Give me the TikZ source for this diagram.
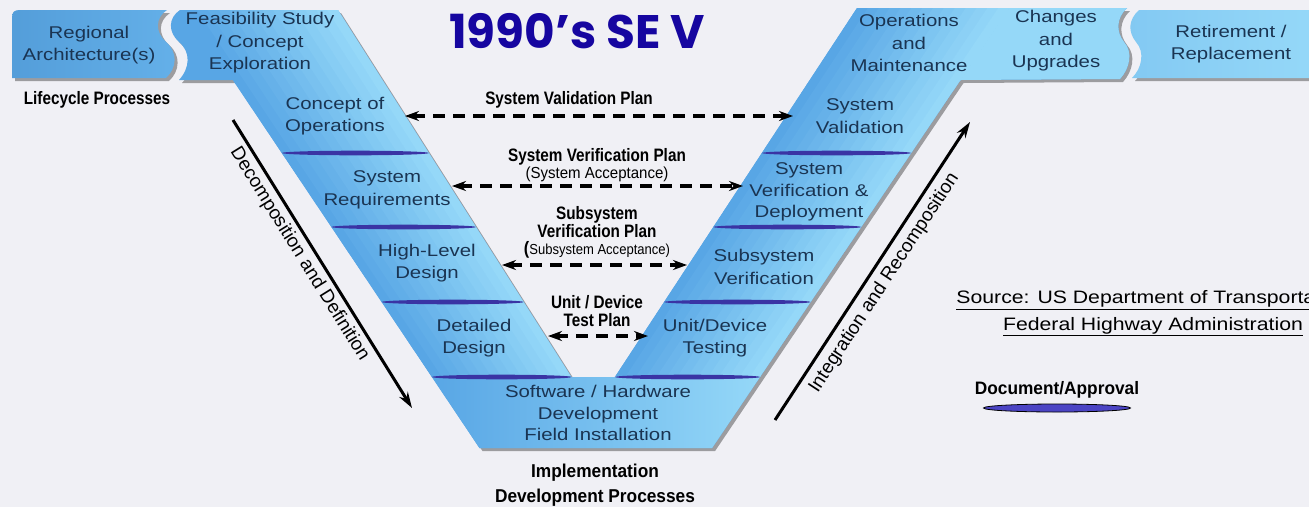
\documentclass[tikz,border=0pt]{standalone}
\usepackage{fontspec}
\setmainfont{Liberation Sans}
\newfontfamily\titlefont{Poppins}
\usetikzlibrary{arrows.meta,shapes.geometric}
\definecolor{bg}{HTML}{F0F0F5}
\definecolor{armdark}{HTML}{58A6E5}
\definecolor{armlight}{HTML}{95D8F8}
\definecolor{txt}{HTML}{1A3452}
\definecolor{divc}{HTML}{3A34A4}
\definecolor{titleblue}{HTML}{1606A0}
\definecolor{docfill}{HTML}{4B44C4}
\begin{document}
\begin{tikzpicture}[x=1pt,y=-1pt,
  vtext/.style={text=txt, align=center, font=\fontsize{17}{22.5}\selectfont, xscale=1.2, inner sep=0pt},
  plan/.style={align=center, font=\bfseries\fontsize{18}{18}\selectfont, xscale=0.85, inner sep=0pt},
  plansub/.style={align=center, font=\fontsize{16}{18}\selectfont, xscale=0.94, inner sep=0pt},
  planarrow/.style={line width=3.5pt, dash pattern=on 12pt off 8pt, {Stealth[length=14pt,width=10pt]}-{Stealth[length=14pt,width=10pt]}},
  phasearrow/.style={line width=3pt, -{Stealth[length=16pt,width=10pt]}},
  phaselabel/.style={font=\fontsize{19}{19}\selectfont, inner sep=4pt},
  shadowc/.style={fill=black, opacity=0.35},
]
\def\Vpath{(180,10) -- (338,10) -- (571.4,377) -- (614.9,377) -- (857,8) -- (1127,8) .. controls (1116,18) and (1116,32) .. (1124,42) .. controls (1133,52) and (1130,68) .. (1120,79) -- (960.5,80) -- (712.1,448) -- (479.5,448) -- (232.9,80) -- (179,80) .. controls (190,68) and (191,52) .. (179,42) .. controls (168,32) and (168,18) .. (180,10) -- cycle}
\def\Rpath{(1139,10) -- (1315,10) -- (1315,78) -- (1132,78) .. controls (1142,68) and (1145,52) .. (1136,42) .. controls (1128,32) and (1128,20) .. (1139,10) -- cycle}
\def\Gpath{(12,78) -- (12,18) .. controls (12,12) and (14,10) .. (20,10) -- (167,10) .. controls (155,18) and (155,32) .. (166,42) .. controls (178,52) and (177,68) .. (166,78) -- cycle}
\useasboundingbox (0,0) rectangle (1309,507);
\fill[bg] (0,0) rectangle (1309,507);
\clip (0,0) rectangle (1309,507);
% shadows
\fill[shadowc, shift={(3,3)}] \Gpath;
\fill[shadowc, shift={(3,3)}] \Rpath;
\fill[shadowc, shift={(3,3)}] \Vpath;
% side boxes
\shade[left color=armdark!95!black, right color=armdark!80!armlight] \Gpath;
\shade[left color=armdark!30!armlight, right color=armlight] \Rpath;
% V shape
\begin{scope}
\clip \Vpath;
\fill[armdark] (0,0) rectangle (1309,507);
\foreach \k in {0,...,13} {
  \pgfmathsetmacro\a{\k/14}
  \pgfmathsetmacro\b{(\k+1)/14}
  \pgfmathsetmacro\p{100-100*\k/13}
  \fill[armdark!\p!armlight] ({179.3+152.3*\a},0) -- ({179.3+152.3*\b+0.6},0) -- ({431.9+139.5*\b+0.6},377) -- ({431.9+139.5*\a},377) -- cycle;
  \fill[armdark!\p!armlight] ({862.2+152.3*\a},0) -- ({862.2+152.3*\b+0.6},0) -- ({614.9+145.1*\b+0.6},377) -- ({614.9+145.1*\a},377) -- cycle;
}
\fill[armlight] (1014.5,0) -- (1140,0) -- (1140,90) -- (953.75,90) -- cycle;
\shade[left color=armdark, right color=armlight] (430,376.5) rectangle (762,452);
\end{scope}
% dividers
\foreach \y in {153,227,302,377} {
  \pgfmathsetmacro\lo{186+0.67*(\y-10)}
  \pgfmathsetmacro\li{338+0.636*(\y-10)}
  \pgfmathsetmacro\ri{857-0.656*(\y-8)}
  \pgfmathsetmacro\ro{947-0.675*(\y-100)}
  \fill[divc] ({(\lo+\li)/2},\y) ellipse[x radius={(\li-\lo)/2}, y radius=2.3];
  \fill[divc] ({(\ri+\ro)/2},\y) ellipse[x radius={(\ro-\ri)/2}, y radius=2.3];
}
% texts in shapes
\node[vtext] (regional) at (89,45) {Regional\\Architecture(s)};
\node[vtext] (feas) at (260,43) {Feasibility Study\\/ Concept\\Exploration};
\node[vtext] (conops) at (335,116) {Concept of\\Operations};
\node[vtext] (sysreq) at (387,190) {System\\Requirements};
\node[vtext] (hld) at (427,263) {High-Level\\Design};
\node[vtext] (dd) at (474,338) {Detailed\\Design};
\node[vtext, font=\fontsize{17}{21.5}\selectfont] (swhw) at (598,413) {Software / Hardware\\Development\\Field Installation};
\node[vtext] (sysval) at (860,116) {System\\Validation};
\node[vtext, font=\fontsize{17}{21.5}\selectfont] (sysver) at (809,192) {System\\Verification \&\\Deployment};
\node[vtext] (subver) at (764,267) {Subsystem\\Verification};
\node[vtext] (unittest) at (715,338) {Unit/Device\\Testing};
\node[vtext] (ops) at (909,43) {Operations\\and\\Maintenance};
\node[vtext] (changes) at (1056,41) {Changes\\and\\Upgrades};
\node[vtext] (retire) at (1231,44) {Retirement /\\Replacement};
% title and process labels
\node[font=\titlefont\bfseries\fontsize{47}{47}\selectfont, text=titleblue, inner sep=0pt] (title) at (577,31) {1990’s SE V};
\node[plan] (lifecycle) at (97,100) {Lifecycle Processes};
\node[plan, font=\bfseries\fontsize{18.6}{25}\selectfont, xscale=0.93/0.85] (impl) at (595,485) {Implementation\\Development Processes};
% plan labels and arrows
\node[plan] (svplab) at (569,100) {System Validation Plan};
\coordinate (svpL) at (405,116); \coordinate (svpR) at (793,116);
\draw[planarrow] (svpL) -- (svpR);
\node[plan] (sverlab) at (597,157) {System Verification Plan};
\node[plansub] (sveracc) at (597,174) {(System Acceptance)};
\coordinate (sverL) at (452,186); \coordinate (sverR) at (743,186);
\draw[planarrow] (sverL) -- (sverR);
\node[plan] (subslab) at (597,222) {Subsystem\\Verification Plan};
\node[plansub, font=\fontsize{14.5}{16}\selectfont, xscale=0.9/0.94] (subsacc) at (597,250) {{\bfseries\fontsize{18}{18}\selectfont(}Subsystem Acceptance)};
\coordinate (subsL) at (502,265); \coordinate (subsR) at (687,265);
\draw[planarrow] (subsL) -- (subsR);
\node[plan] (unitlab) at (597,311.5) {Unit / Device\\Test Plan};
\coordinate (unitL) at (548,336); \coordinate (unitR) at (648,336);
\draw[planarrow] (unitL) -- (unitR);
% phase arrows
\coordinate (decA) at (233,120); \coordinate (decB) at (412,408);
\draw[phasearrow] (decA) -- node[phaselabel, sloped, below, pos=0.44] (declab) {Decomposition and Definition} (decB);
\coordinate (intA) at (775,420); \coordinate (intB) at (970,122);
\draw[phasearrow] (intA) -- node[phaselabel, sloped, below, pos=0.49, inner sep=6pt] (intlab) {Integration and Recomposition} (intB);
% source and legend
\node[align=center, font=\fontsize{18}{26.5}\selectfont, xscale=1.18, inner sep=0pt] (source) at (1153,313.5) {\underline{Source: US Department of Transportation}\\\underline{Federal Highway Administration}};
\node[plan, xscale=0.96/0.85] (docapp) at (1057,390) {Document/Approval};
\node[ellipse, draw=black, line width=0.8pt, fill=docfill, minimum width=147pt, minimum height=8pt, inner sep=0pt] (docell) at (1057,408) {};
\end{tikzpicture}
\end{document}
